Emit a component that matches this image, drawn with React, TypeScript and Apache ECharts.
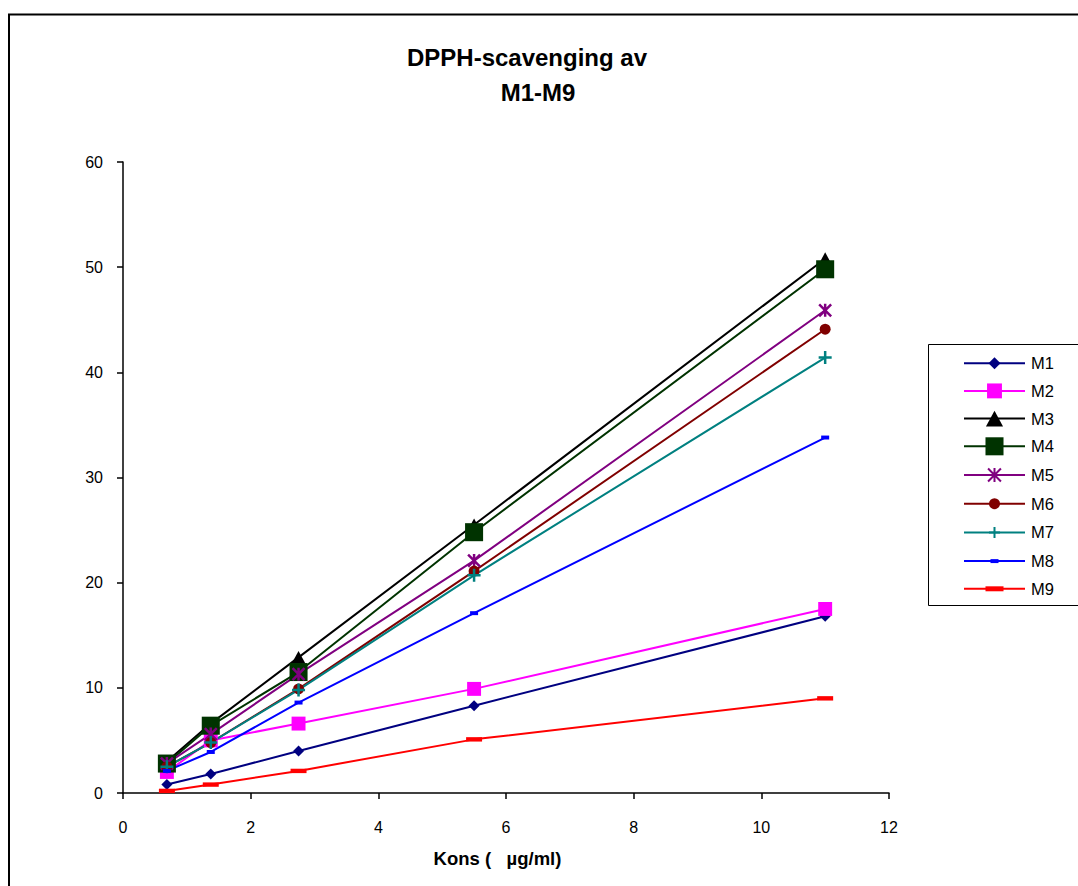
import React, { useEffect, useRef } from "react";
import * as echarts from "echarts";

const concentrations = [0.6875, 1.375, 2.75, 5.5, 11];
const seriesNames = ["M1", "M2", "M3", "M4", "M5", "M6", "M7", "M8", "M9"];
const m1 = [0.8, 1.8, 4.0, 8.3, 16.8];
const m2 = [2.0, 5.0, 6.6, 9.9, 17.5];
const m3 = [3.0, 6.6, 12.9, 25.5, 50.8];
const m4 = [2.8, 6.4, 11.5, 24.8, 49.8];
const m5 = [2.8, 5.6, 11.3, 22.1, 45.9];
const m6 = [2.5, 4.8, 9.9, 21.1, 44.1];
const m7 = [2.5, 4.8, 9.8, 20.7, 41.4];
const m8 = [2.1, 3.9, 8.6, 17.1, 33.8];
const m9 = [0.2, 0.8, 2.1, 5.1, 9.0];
const xTicks = { min: 0, max: 12, interval: 2 };
const yTicks = { min: 0, max: 60, interval: 10 };

const FONT = "'Liberation Sans', Arial, sans-serif";

// Every marker path lives in a 20x20 box (the leading M0,0M20,20 fixes the box),
// so the legend icon (a fixed square) shows each glyph at its own size.
const BOX = "path://M0,0M20,20";
const styles = [
  { color: "#000080", symbol: BOX + "M10,3.5L16.5,10L10,16.5L3.5,10Z", size: 16.9 },
  { color: "#FF00FF", symbol: BOX + "M1.9,1.9L18.1,1.9L18.1,18.1L1.9,18.1Z", size: 17.2 },
  { color: "#000000", symbol: BOX + "M10,1.5L19.3,18.5L0.7,18.5Z", size: 15.1 },
  { color: "#003300", symbol: BOX + "M0.2,0.2L19.8,0.2L19.8,19.8L0.2,19.8Z", size: 18.4 },
  { color: "#800080", symbol: BOX + "M3,3L17,17M17,3L3,17M10,2.4L10,17.6", size: 17.1, stroke: true },
  { color: "#800000", symbol: BOX + "M4,10A6,6,0,1,1,16,10A6,6,0,1,1,4,10Z", size: 18.3 },
  { color: "#008080", symbol: BOX + "M10,4L10,16M4,10L16,10", size: 21.7, stroke: true },
  { color: "#0000FF", symbol: BOX + "M5.65,7.85L14.35,7.85L14.35,12.15L5.65,12.15Z", size: 18.4 },
  { color: "#FF0000", symbol: BOX + "M0.2,7.3L19.8,7.3L19.8,12.7L0.2,12.7Z", size: 16.3 },
];

export default function App() {
  const ref = useRef<HTMLDivElement>(null);
  useEffect(() => {
    if (!ref.current) return;
    const chart = echarts.init(ref.current, null, { renderer: "svg" });
    const all = [m1, m2, m3, m4, m5, m6, m7, m8, m9];
    const series = all.map((vals, i) => {
      const s: any = styles[i];
      return {
        name: seriesNames[i],
        type: "line",
        data: concentrations.map((x, j) => [x, vals[j]]),
        symbol: s.symbol,
        symbolSize: s.size,
        showAllSymbol: true,
        lineStyle: { color: s.color, width: 2 },
        itemStyle: s.stroke
          ? { color: s.color, borderColor: s.color, borderWidth: 2.5 }
          : { color: s.color, borderWidth: 0 },
        emphasis: { disabled: true },
      };
    });
    chart.setOption({
      animation: false,
      backgroundColor: "#ffffff",
      textStyle: { fontFamily: FONT },
      grid: { left: 123, right: 189, top: 162, bottom: 93, containLabel: false },
      xAxis: {
        type: "value",
        min: xTicks.min,
        max: xTicks.max,
        interval: xTicks.interval,
        name: "Kons (   \u00b5g/ml)",
        nameLocation: "middle",
        nameGap: 56,
        nameTextStyle: {
          fontSize: 18.5,
          fontWeight: "bold",
          color: "#000",
          fontFamily: FONT,
          padding: [0, 17, 0, 0],
        },
        axisLine: { lineStyle: { color: "#000", width: 1.5 } },
        axisTick: { show: true, inside: false, length: 6, lineStyle: { color: "#000", width: 1.5 } },
        axisLabel: { fontSize: 16, color: "#000", margin: 26, fontFamily: FONT },
        splitLine: { show: false },
      },
      yAxis: {
        type: "value",
        min: yTicks.min,
        max: yTicks.max,
        interval: yTicks.interval,
        axisLine: { show: true, lineStyle: { color: "#000", width: 1.5 } },
        axisTick: { show: true, inside: false, length: 6, lineStyle: { color: "#000", width: 1.5 } },
        axisLabel: { fontSize: 16, color: "#000", margin: 20, fontFamily: FONT },
        splitLine: { show: false },
      },
      legend: {
        orient: "vertical",
        left: 963,
        top: 354,
        padding: 0,
        itemWidth: 61,
        itemHeight: 23,
        itemGap: 9.3,
        data: seriesNames,
        textStyle: {
          fontSize: 16.5,
          color: "#000",
          fontFamily: FONT,
          padding: [0, 0, 0, 1],
        },
      },
      graphic: [
        {
          type: "rect",
          shape: { x: 9, y: 14.5, width: 1200, height: 1000 },
          style: { fill: "none", stroke: "#000", lineWidth: 2 },
          silent: true,
        },
        {
          type: "rect",
          shape: { x: 928.5, y: 344.5, width: 200, height: 261 },
          style: { fill: "none", stroke: "#000", lineWidth: 1 },
          silent: true,
        },
        {
          type: "text",
          x: 527,
          y: 57,
          style: {
            text: "DPPH-scavenging av",
            fontSize: 24,
            fontWeight: "bold",
            fontFamily: FONT,
            fill: "#000",
            textAlign: "center",
            textVerticalAlign: "middle",
          },
        },
        {
          type: "text",
          x: 538,
          y: 92,
          style: {
            text: "M1-M9",
            fontSize: 24,
            fontWeight: "bold",
            fontFamily: FONT,
            fill: "#000",
            textAlign: "center",
            textVerticalAlign: "middle",
          },
        },
      ],
      series,
    });
    return () => chart.dispose();
  }, []);
  return (
    <div
      ref={ref}
      style={{ position: "fixed", left: 0, top: 0, width: 1078, height: 886, background: "#fff" }}
    />
  );
}
